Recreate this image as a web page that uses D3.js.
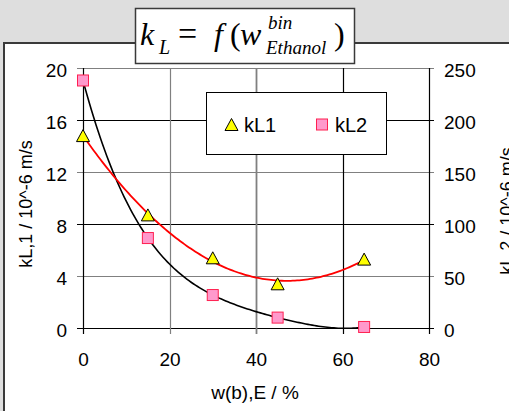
<!DOCTYPE html>
<html>
<head>
<meta charset="utf-8">
<script src="https://cdn.jsdelivr.net/npm/d3@7"></script>
<style>
  body { margin: 0; background: #dedede; }
  svg { display: block; }
</style>
</head>
<body>
<div id="my_dataviz"></div>
<script>
// data
var wE = [0, 15, 30, 45, 65];
var kL1 = [14.8, 8.7, 5.4, 3.4, 5.3];
var kL2 = [238, 86.5, 31.7, 10, 1];
var xTicks = [0, 20, 40, 60, 80];
var yLeftTicks = [0, 4, 8, 12, 16, 20];
var yRightTicks = [0, 50, 100, 150, 200, 250];
var legendNames = ["kL1", "kL2"];

// least squares polynomial (trendline)
function polyfit(xs, ys, order){
    var n = order + 1;
    var A = [];
    for(i=0; i<n; i++){
        A.push([]);
        for(j=0; j<n; j++){
            var s = 0;
            xs.forEach(x => { s += Math.pow(x, i + j); });
            A[i].push(s);
        }
        var t = 0;
        xs.forEach((x, k) => { t += Math.pow(x, i) * ys[k]; });
        A[i].push(t);
    }
    for(i=0; i<n; i++){
        var p = i;
        for(j=i+1; j<n; j++) if(Math.abs(A[j][i]) > Math.abs(A[p][i])) p = j;
        var tmp = A[i]; A[i] = A[p]; A[p] = tmp;
        for(j=i+1; j<n; j++){
            var f = A[j][i] / A[i][i];
            for(k=i; k<=n; k++) A[j][k] -= f * A[i][k];
        }
    }
    var c = new Array(n).fill(0);
    for(i=n-1; i>=0; i--){
        var s = A[i][n];
        for(j=i+1; j<n; j++) s -= A[i][j] * c[j];
        c[i] = s / A[i][i];
    }
    return function(x){ return c.reduce((acc, ci, idx) => acc + ci * Math.pow(x, idx), 0); };
}

var width = 509, height = 411;
var sans = "'Liberation Sans', Arial, sans-serif";

var svg = d3.select("#my_dataviz")
    .append("svg")
    .attr("width", width)
    .attr("height", height)
    .style("font-family", sans);

// white chart box
svg.append("rect")
    .attr("x", 4).attr("y", 43)
    .attr("width", 520).attr("height", 400)
    .attr("fill", "white")
    .attr("stroke", "#3a3a3a")
    .attr("stroke-width", 2);

var x = d3.scaleLinear().domain([0, 80]).range([83, 429]);
var yL = d3.scaleLinear().domain([0, 20]).range([328, 68]);
var yR = d3.scaleLinear().domain([0, 250]).range([328, 68]);

var gridColor = function(v){ return (v % 8 == 0) ? "black" : "#808080"; };

// horizontal grid
svg.selectAll("hgrid")
    .data(yLeftTicks)
    .enter()
    .append("line")
    .attr("x1", 77).attr("x2", 434)
    .attr("y1", d => Math.round(yL(d)) + 0.5)
    .attr("y2", d => Math.round(yL(d)) + 0.5)
    .attr("stroke", d => gridColor(d))
    .attr("stroke-width", 1.2);

// vertical grid
svg.selectAll("vgrid")
    .data(xTicks)
    .enter()
    .append("line")
    .attr("x1", d => Math.round(x(d)) + 0.5)
    .attr("x2", d => Math.round(x(d)) + 0.5)
    .attr("y1", 68).attr("y2", 334)
    .attr("stroke", d => (d == 20 || d == 40) ? "#808080" : "black")
    .attr("stroke-width", d => d == 40 ? 1.8 : 1.2);

// axes
var axL = svg.append("g").attr("transform", "translate(83,0)")
    .call(d3.axisLeft(yL).tickValues(yLeftTicks).tickSize(0).tickPadding(16));
var axR = svg.append("g").attr("transform", "translate(429,0)")
    .call(d3.axisRight(yR).tickValues(yRightTicks).tickSize(0).tickPadding(15));
var axB = svg.append("g").attr("transform", "translate(0,328)")
    .call(d3.axisBottom(x).tickValues(xTicks).tickSize(0).tickPadding(25));
[axL, axR, axB].forEach(g => {
    g.select(".domain").remove();
    g.selectAll("text").attr("font-size", "19px").attr("fill", "black")
        .style("font-family", sans);
});
axL.selectAll("text").attr("dy", "0.45em");
axR.selectAll("text").attr("dy", "0.45em");

// axis titles
svg.append("text")
    .attr("transform", "translate(32,204) rotate(-90)")
    .attr("text-anchor", "middle")
    .attr("font-size", "18px")
    .text("kL,1 / 10^-6 m/s");
svg.append("text")
    .attr("transform", "translate(513,211) rotate(-90)")
    .attr("text-anchor", "middle")
    .attr("font-size", "18px")
    .text("kL,2 / 10^-6 m/s");
svg.append("text")
    .attr("x", 255).attr("y", 399)
    .attr("text-anchor", "middle")
    .attr("font-size", "19px")
    .text("w(b),E / %");

// trendlines
svg.append("clipPath").attr("id", "plotclip")
    .append("rect").attr("x", 80).attr("y", 60).attr("width", 352).attr("height", 268.5);

var fit1 = polyfit(wE, kL1, 2);
var fit2 = polyfit(wE, kL2, 4);
var xs = d3.range(0, 65.01, 0.5);

svg.append("path")
    .datum(xs)
    .attr("clip-path", "url(#plotclip)")
    .attr("fill", "none")
    .attr("stroke", "black")
    .attr("stroke-width", 1.6)
    .attr("d", d3.line().x(d => x(d)).y(d => yR(fit2(d))));

svg.append("path")
    .datum(xs)
    .attr("clip-path", "url(#plotclip)")
    .attr("fill", "none")
    .attr("stroke", "#ff0000")
    .attr("stroke-width", 1.8)
    .attr("d", d3.line().x(d => x(d)).y(d => yL(fit1(d))));

// markers
var tri = "M0,-6L6.5,6L-6.5,6Z";

svg.selectAll("sq")
    .data(wE)
    .enter()
    .append("rect")
    .attr("x", (d, i) => x(d) - 5.5)
    .attr("y", (d, i) => yR(kL2[i]) - 5.5)
    .attr("width", 11).attr("height", 11)
    .attr("fill", "#ff99cc")
    .attr("stroke", "#ff2050")
    .attr("stroke-width", 1);

svg.selectAll("tri")
    .data(wE)
    .enter()
    .append("path")
    .attr("d", tri)
    .attr("transform", (d, i) => "translate(" + x(d) + "," + yL(kL1[i]) + ")")
    .attr("fill", "#ffff00")
    .attr("stroke", "black")
    .attr("stroke-width", 1);

// legend
var lg = svg.append("g");
lg.append("rect")
    .attr("x", 206.5).attr("y", 92.5)
    .attr("width", 180).attr("height", 62)
    .attr("fill", "white")
    .attr("stroke", "black")
    .attr("stroke-width", 1);
lg.append("path")
    .attr("d", tri)
    .attr("transform", "translate(231.5,124.5)")
    .attr("fill", "#ffff00")
    .attr("stroke", "black");
lg.append("rect")
    .attr("x", 316.5).attr("y", 119)
    .attr("width", 11).attr("height", 11)
    .attr("fill", "#ff99cc")
    .attr("stroke", "#ff2050");
lg.selectAll("ltext")
    .data(legendNames)
    .enter()
    .append("text")
    .attr("x", (d, i) => i == 0 ? 244 : 335)
    .attr("y", 131.5)
    .attr("font-size", "20px")
    .text(d => d);

// title box with formula
var tg = svg.append("g").style("font-family", "'Liberation Serif', 'Times New Roman', serif");
tg.append("rect")
    .attr("x", 135.5).attr("y", 8.5)
    .attr("width", 219).attr("height", 55)
    .attr("fill", "white")
    .attr("stroke", "#3a3a3a")
    .attr("stroke-width", 1.5);
var parts = [
    {t: "k", x: 140, y: 45, s: 32, it: true},
    {t: "L", x: 159, y: 54, s: 20, it: true},
    {t: "=", x: 178, y: 45, s: 34, it: false},
    {t: "f", x: 214, y: 45, s: 32, it: true},
    {t: "(", x: 230, y: 45, s: 32, it: false},
    {t: "w", x: 240, y: 45, s: 32, it: true},
    {t: "bin", x: 268, y: 29, s: 19, it: true},
    {t: "Ethanol", x: 266, y: 54, s: 19, it: true},
    {t: ")", x: 334, y: 45, s: 32, it: false}
];
tg.selectAll("ft")
    .data(parts)
    .enter()
    .append("text")
    .attr("x", d => d.x)
    .attr("y", d => d.y)
    .attr("font-size", d => d.s + "px")
    .attr("font-style", d => d.it ? "italic" : "normal")
    .text(d => d.t);
</script>
</body>
</html>
